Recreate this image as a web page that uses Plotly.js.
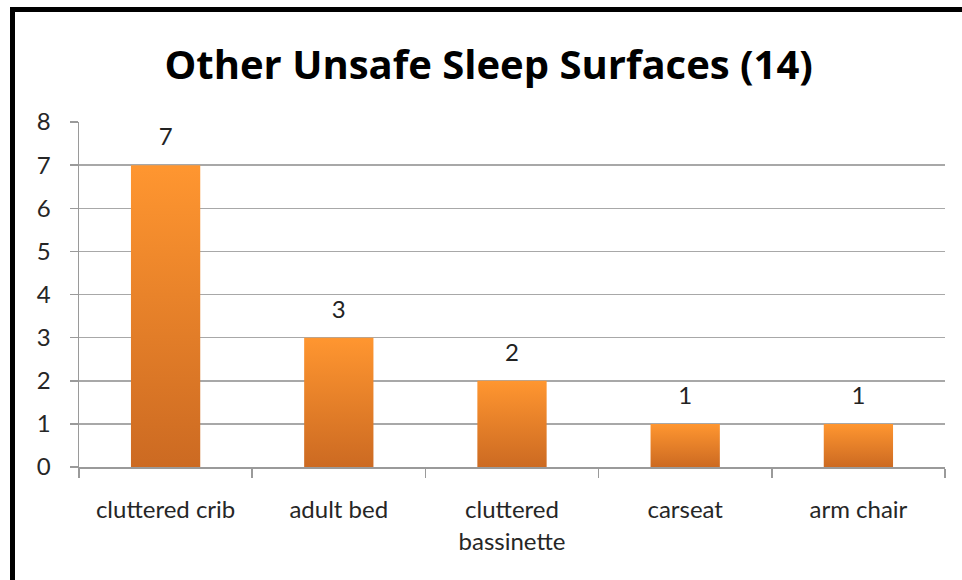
<!DOCTYPE html>
<html><head><meta charset="utf-8">
<script src="https://cdn.plot.ly/plotly-3.0.1.min.js"></script>
<style>
html,body{margin:0;padding:0;background:#fff;}
#wrap{position:relative;width:962px;height:580px;overflow:hidden;}
#chart{position:absolute;left:0;top:0;width:962px;height:580px;}
#frame{position:absolute;left:10px;top:7px;width:960px;height:600px;border-top:5px solid #000;border-left:5px solid #000;pointer-events:none;}
</style>
</head><body>
<div id="wrap"><div id="chart"></div><div id="frame"></div></div>
<script>
const categories = ["cluttered crib", "adult bed", "cluttered<br>bassinette", "carseat", "arm chair"];
const counts = [7, 3, 2, 1, 1];
const yTicks = [0, 1, 2, 3, 4, 5, 6, 7, 8];
const titleText = "Other Unsafe Sleep Surfaces (14)";

const font = "Lato, 'Open Sans', 'Liberation Sans', sans-serif";

const trace = {
  type: "bar",
  x: categories,
  y: counts,
  text: counts.map(String),
  textposition: "outside",
  textfont: {family: font, size: 24, color: "#222"},
  cliponaxis: false,
  marker: {color: "#e97f27", line: {width: 0}},
  hoverinfo: "none"
};

const layout = {
  width: 962, height: 580,
  margin: {l: 79, r: 17, t: 122, b: 113},
  paper_bgcolor: "#fff", plot_bgcolor: "#fff",
  bargap: 0.6,
  showlegend: false,
  title: {text: "<b>" + titleText + "</b>", x: 0.508, xanchor: "center", y: 0.888, yanchor: "middle",
          font: {family: "'Open Sans', 'Liberation Sans', sans-serif", size: 40, color: "#000"}},
  xaxis: {
    type: "category", showline: true, linecolor: "#9a9a9a", linewidth: 1.5,
    ticks: "outside", tickson: "boundaries", ticklen: 9, tickcolor: "#9a9a9a", tickwidth: 1.5,
    ticklabelstandoff: 21,
    tickfont: {family: font, size: 24, color: "#262626"}, showgrid: false, zeroline: false
  },
  yaxis: {
    range: [0, 8], tickvals: yTicks, ticktext: yTicks.map(String),
    showline: true, linecolor: "#9a9a9a", linewidth: 1.5,
    ticks: "outside", ticklen: 8, tickcolor: "#9a9a9a", tickwidth: 1.5,
    ticklabelstandoff: 14,
    showgrid: true, gridcolor: "#a8a8a8", gridwidth: 1.5, zeroline: false,
    tickfont: {family: font, size: 24, color: "#262626"}
  },
  bargroupgap: 0
};

Plotly.newPlot("chart", [trace], layout, {staticPlot: true}).then(function(gd){
  const svg = gd.querySelector("svg.main-svg");
  const ns = "http://www.w3.org/2000/svg";
  let defs = svg.querySelector("defs");
  if(!defs){ defs = document.createElementNS(ns, "defs"); svg.insertBefore(defs, svg.firstChild); }
  const lg = document.createElementNS(ns, "linearGradient");
  lg.setAttribute("id", "barGrad");
  lg.setAttribute("x1", "0"); lg.setAttribute("y1", "0");
  lg.setAttribute("x2", "0"); lg.setAttribute("y2", "1");
  [["0", "#ff9630"], ["1", "#cc6a22"]].forEach(function(s){
    const st = document.createElementNS(ns, "stop");
    st.setAttribute("offset", s[0]); st.setAttribute("stop-color", s[1]);
    lg.appendChild(st);
  });
  defs.appendChild(lg);
  gd.querySelectorAll(".barlayer .point path").forEach(function(p){
    p.style.fill = "url(#barGrad)";
  });
  gd.querySelectorAll(".barlayer .point text").forEach(function(t){
    const y = parseFloat(t.getAttribute("y"));
    t.setAttribute("y", y - 12);
  });
});
</script>
</body></html>
